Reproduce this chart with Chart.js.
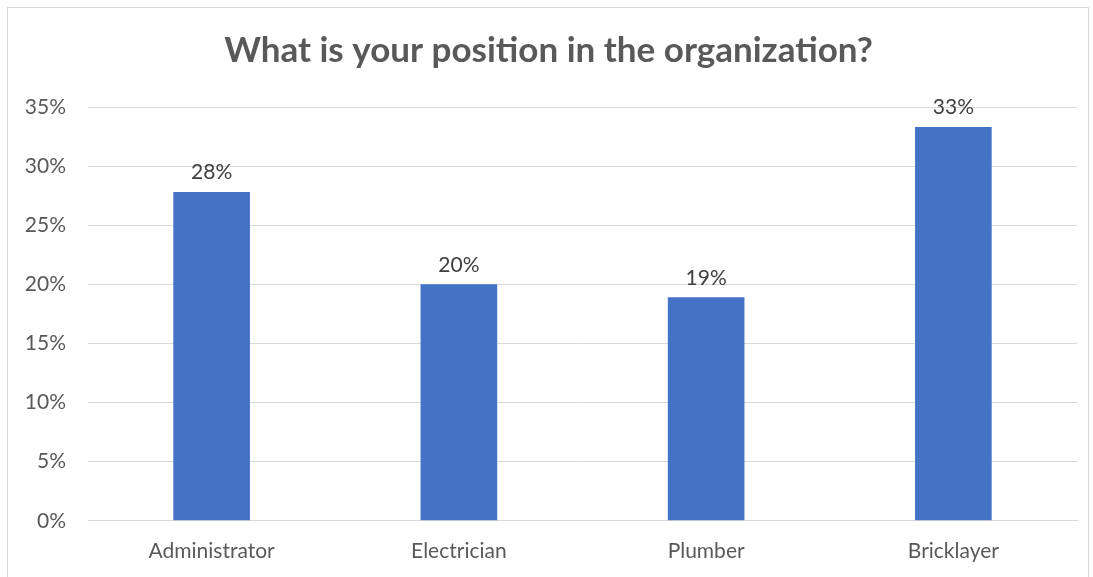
<!DOCTYPE html>
<html>
<head>
<meta charset="utf-8">
<script src="https://cdn.jsdelivr.net/npm/chart.js@4"></script>
<style>
  html, body { margin: 0; padding: 0; background: #fff; }
  #wrap { position: relative; width: 1093px; height: 577px; }
  #frame { position: absolute; left: 7px; top: 7px; width: 1080px; height: 600px; border: 1px solid #d9d9d9; }
  canvas { position: absolute; left: 0; top: 0; }
</style>
</head>
<body>
<div id="wrap">
  <div id="frame"></div>
  <canvas id="positionChart" width="1093" height="577"></canvas>
</div>
<script>
// Survey answers
const positions = ["Administrator", "Electrician", "Plumber", "Bricklayer"];
const shares = [27.8, 20.0, 18.9, 33.3]; // percent of respondents
const yTicks = [0, 5, 10, 15, 20, 25, 30, 35];

const fontFamily = "Lato, 'Open Sans', sans-serif";

// draw the value above each bar
const barLabels = {
  id: "barLabels",
  afterDatasetsDraw(chart) {
    const ctx = chart.ctx;
    const meta = chart.getDatasetMeta(0);
    ctx.save();
    ctx.font = "21px " + fontFamily;
    ctx.fillStyle = "#404040";
    ctx.textAlign = "center";
    ctx.textBaseline = "bottom";
    meta.data.forEach((bar, i) => {
      ctx.fillText(Math.round(shares[i]) + "%", bar.x, bar.y - 9);
    });
    ctx.restore();
  }
};

const ctx = document.getElementById("positionChart").getContext("2d");
new Chart(ctx, {
  type: "bar",
  data: {
    labels: positions,
    datasets: [{
      data: shares,
      backgroundColor: "#4472C4",
      borderWidth: 0,
      categoryPercentage: 1,
      barPercentage: 0.31
    }]
  },
  options: {
    responsive: false,
    animation: false,
    layout: { padding: { left: 20, right: 16, top: 14, bottom: 3 } },
    plugins: {
      legend: { display: false },
      tooltip: { enabled: false },
      title: {
        display: true,
        text: "What is your position in the organization?",
        color: "#595959",
        font: { family: fontFamily, size: 35, weight: "bold" },
        padding: { top: 16, bottom: 35 }
      }
    },
    scales: {
      x: {
        grid: { display: false },
        border: { color: "#d9d9d9" },
        ticks: { color: "#595959", font: { family: fontFamily, size: 21 }, padding: 10 }
      },
      y: {
        min: 0,
        max: 35,
        afterBuildTicks: (axis) => { axis.ticks = yTicks.map(v => ({ value: v })); },
        afterFit: (axis) => { axis.width = 68; },
        grid: { color: "#d9d9d9", drawTicks: false },
        border: { display: false },
        ticks: {
          color: "#595959",
          font: { family: fontFamily, size: 21 },
          padding: 22,
          callback: (v) => v + "%"
        }
      }
    }
  },
  plugins: [barLabels]
});
</script>
</body>
</html>
